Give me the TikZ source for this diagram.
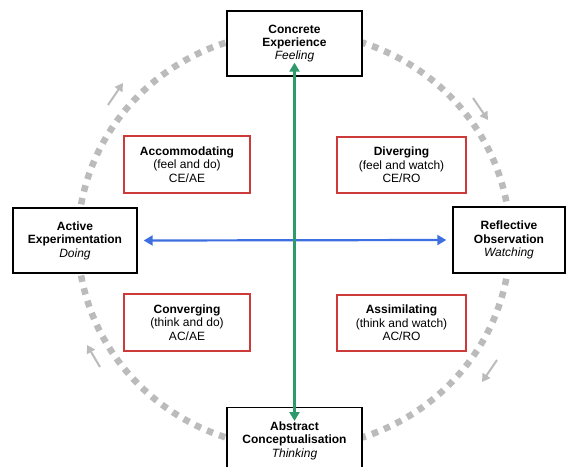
\documentclass[tikz,border=0pt]{standalone}
\usepackage{fontspec}
\setmainfont{Liberation Sans}
\usetikzlibrary{arrows.meta}
\definecolor{cyclegray}{HTML}{BBBBBB}
\definecolor{axisgreen}{HTML}{2E9A6B}
\definecolor{axisblue}{HTML}{3E6FE0}
\definecolor{stylered}{HTML}{CC3A3A}
\begin{document}
\begin{tikzpicture}[x=1pt,y=-1pt,
  modebox/.style={draw=black,line width=1.4pt,fill=white,align=center,
    font=\fontsize{12}{13.4}\selectfont,inner sep=0pt},
  stylebox/.style={draw=stylered,line width=1.4pt,fill=white,align=center,
    font=\fontsize{12}{13.4}\selectfont,inner sep=0pt},
  cycle/.style={draw=cyclegray,line width=6.5pt,dash pattern=on 6.5pt off 6.5pt},
  cyclearrow/.style={draw=cyclegray,line width=2pt,-{Triangle[length=8pt,width=9pt]}},
  axis/.style={line width=2.2pt}]
\useasboundingbox (0,0) rectangle (567,466);
% cycle
\draw[cycle] (294,240) ellipse [x radius=216, y radius=208];
% cycle arrows
\coordinate (tla) at (108,105); \coordinate (tlb) at (123,83);
\coordinate (tra) at (473,98);  \coordinate (trb) at (488,120);
\coordinate (bra) at (497,360); \coordinate (brb) at (482,382);
\coordinate (bla) at (100,367); \coordinate (blb) at (87,345);
\draw[cyclearrow] (tla) -- (tlb);
\draw[cyclearrow] (tra) -- (trb);
\draw[cyclearrow] (bra) -- (brb);
\draw[cyclearrow] (bla) -- (blb);
% mode boxes
\node[modebox,minimum width=135pt,minimum height=65pt] (ce) at (294.5,43.5)
  {\textbf{Concrete}\\\textbf{Experience}\\\textit{Feeling}};
\node[modebox,minimum width=124pt,minimum height=65pt] (ae) at (75,240.5)
  {\textbf{Active}\\\textbf{Experimentation}\\\textit{Doing}};
\node[modebox,minimum width=112pt,minimum height=66pt] (ro) at (509,240)
  {\textbf{Reflective}\\\textbf{Observation}\\\textit{Watching}};
\node[modebox,minimum width=135pt,minimum height=66pt,anchor=north] (ac) at (294.5,407)
  {\textbf{Abstract}\\\textbf{Conceptualisation}\\\textit{Thinking}};
% style boxes
\node[stylebox,minimum width=126pt,minimum height=57pt] (acc) at (187,164.5)
  {\textbf{Accommodating}\\(feel and do)\\CE/AE};
\node[stylebox,minimum width=129pt,minimum height=56pt] (div) at (401.5,165)
  {\textbf{Diverging}\\(feel and watch)\\CE/RO};
\node[stylebox,minimum width=126pt,minimum height=57pt] (con) at (187,322.5)
  {\textbf{Converging}\\(think and do)\\AC/AE};
\node[stylebox,minimum width=129pt,minimum height=56pt] (ass) at (401.5,323)
  {\textbf{Assimilating}\\(think and watch)\\AC/RO};
% axes
\draw[axis,axisblue,{Triangle[length=9pt,width=10pt]}-{Triangle[length=9pt,width=10pt]}]
  ([xshift=6pt]ae.east) -- ([xshift=-6pt]ro.west);
\draw[axis,axisgreen,{Triangle[length=9pt,width=10pt]}-{Triangle[length=9pt,width=10pt]}]
  ([yshift=14pt]ce.south) -- ([yshift=-14pt]ac.north);
\end{tikzpicture}
\end{document}
